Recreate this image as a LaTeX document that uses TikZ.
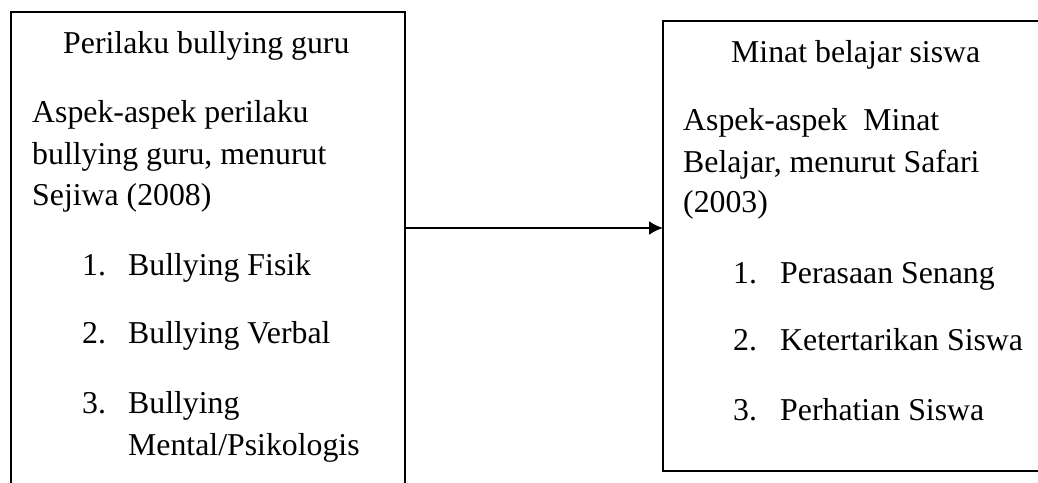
\documentclass[tikz,border=0pt]{standalone}
\usepackage{fontspec}
\setmainfont{Liberation Serif}
\usetikzlibrary{arrows.meta}

\tikzset{txt/.style={anchor=base west, inner sep=0pt, font=\fontsize{31.8}{41.5}\selectfont}}

\begin{document}
\begin{tikzpicture}[x=1pt,y=-1pt]
\useasboundingbox (0,0) rectangle (1038,482);

% kotak kiri (terpotong di bawah)
\draw [line width=1.5pt] (11,495) -- (11,12) -- (405,12) -- (405,495);
% kotak kanan (terpotong di kanan)
\draw [line width=1.5pt] (1050,21) -- (663,21) -- (663,471) -- (1050,471);

% teks kiri
\node[txt] (judulA) at (63,53) {Perilaku bullying guru};
\node[txt] (aspA1) at (32,122) {Aspek-aspek perilaku};
\node[txt] (aspA2) at (32,164) {bullying guru, menurut};
\node[txt] (aspA3) at (32,205) {Sejiwa (2008)};
\node[txt] (noA1) at (82,275) {1.};
\node[txt] (itemA1) at (128,275) {Bullying Fisik};
\node[txt] (noA2) at (82,343) {2.};
\node[txt] (itemA2) at (128,343) {Bullying Verbal};
\node[txt] (noA3) at (82,413) {3.};
\node[txt] (itemA3) at (128,413) {Bullying};
\node[txt] (itemA4) at (128,455) {Mental/Psikologis};

% teks kanan
\node[txt] (judulB) at (731,62) {Minat belajar siswa};
\node[txt] (aspB1) at (683,130) {Aspek-aspek\hspace{0.25em} Minat};
\node[txt] (aspB2) at (683,172) {Belajar, menurut Safari};
\node[txt] (aspB3) at (683,212) {(2003)};
\node[txt] (noB1) at (733,283) {1.};
\node[txt] (itemB1) at (780,283) {Perasaan Senang};
\node[txt] (noB2) at (733,350) {2.};
\node[txt] (itemB2) at (780,350) {Ketertarikan Siswa};
\node[txt] (noB3) at (733,420) {3.};
\node[txt] (itemB3) at (780,420) {Perhatian Siswa};

% panah
\coordinate (panahA) at (405,228);
\coordinate (panahB) at (663,228);
\draw [line width=2.3pt, -{Latex[length=14pt,width=14pt]}] (panahA) -- (panahB);

\end{tikzpicture}
\end{document}
